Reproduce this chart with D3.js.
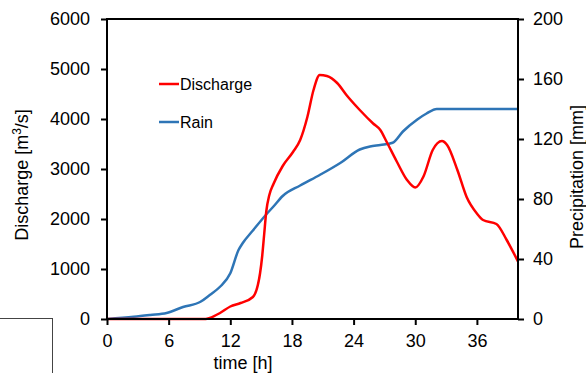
<!DOCTYPE html>
<html>
<head>
<meta charset="utf-8">
<script src="https://cdn.jsdelivr.net/npm/d3@7"></script>
<style>
  body { margin: 0; background: #fff; }
  svg { display: block; font-family: "Liberation Sans", Arial, sans-serif; }
  .axis text { font-size: 18px; fill: #000; }
  .axis line, .axis path { stroke: #000; stroke-width: 2; }
</style>
</head>
<body>
<div id="chart"></div>
<script>
// discharge hydrograph [m3/s]
const dischargeTime = [0, 6, 9.6, 10, 11, 12, 13, 14.2, 14.9, 15.1, 15.3, 15.5, 15.8, 16.2, 17.1, 18.1, 18.8, 19.5, 20.1, 20.7, 21.4, 22.4, 23.3, 24.6, 25.9, 26.6, 27.2, 28.2, 29.2, 30.0, 30.8, 31.7, 32.6, 33.1, 34.1, 35.0, 36.0, 36.6, 37.9, 38.9, 40];
const dischargeValue = [0, 0, 0, 20, 120, 250, 320, 440, 920, 1250, 1700, 2150, 2480, 2700, 3060, 3340, 3580, 4040, 4580, 4880, 4860, 4720, 4480, 4180, 3910, 3780, 3550, 3150, 2780, 2630, 2850, 3380, 3560, 3480, 2980, 2440, 2110, 1980, 1900, 1580, 1150];

// cumulative rain [mm]
const rainTime = [0, 2.6, 4.2, 5.8, 7.4, 9.1, 10.0, 11.0, 12.0, 12.8, 13.2, 14.2, 15.6, 16.2, 17.1, 18.8, 20.7, 22.7, 24.6, 25.6, 26.6, 27.8, 28.8, 30.2, 31.1, 32.1, 34, 40];
const rainValue = [0, 1.5, 2.7, 4, 8, 11.5, 16, 21.5, 30.5, 46, 50.5, 59, 70.5, 75, 82, 89, 96, 104, 113, 115, 116, 117.5, 125, 133, 137, 140, 140, 140];

const xTicks = [0, 6, 12, 18, 24, 30, 36];
const leftTicks = [0, 1000, 2000, 3000, 4000, 5000, 6000];
const rightTicks = [0, 40, 80, 120, 160, 200];

const width = 586, height = 373;
const m = { left: 107, right: 518, top: 19, bottom: 319 };

const svg = d3.select('#chart').append('svg')
  .attr('width', width)
  .attr('height', height);

const x = d3.scaleLinear().domain([0, 40]).range([m.left, m.right]);
const yL = d3.scaleLinear().domain([0, 6000]).range([m.bottom, m.top]);
const yR = d3.scaleLinear().domain([0, 200]).range([m.bottom, m.top]);

// stray box in the lower-left corner of the original
svg.append('rect')
  .attr('x', -2).attr('y', 318.5)
  .attr('width', 54.5).attr('height', 60)
  .attr('fill', 'none')
  .attr('stroke', '#444')
  .attr('stroke-width', 1);

// lines
const dLine = d3.line()
  .x((d, i) => x(dischargeTime[i]))
  .y(d => yL(d))
  .curve(d3.curveMonotoneX);

const rLine = d3.line()
  .x((d, i) => x(rainTime[i]))
  .y(d => yR(d))
  .curve(d3.curveMonotoneX);

svg.append('path')
  .datum(rainValue)
  .attr('d', rLine)
  .attr('fill', 'none')
  .attr('stroke', '#2E75B6')
  .attr('stroke-width', 2.5);

svg.append('path')
  .datum(dischargeValue)
  .attr('d', dLine)
  .attr('fill', 'none')
  .attr('stroke', '#FF0000')
  .attr('stroke-width', 2.5);

// frame
svg.append('rect')
  .attr('x', m.left).attr('y', m.top)
  .attr('width', m.right - m.left).attr('height', m.bottom - m.top)
  .attr('fill', 'none')
  .attr('stroke', '#000')
  .attr('stroke-width', 2);

// axes
svg.append('g')
  .attr('class', 'axis')
  .attr('transform', `translate(0,${m.bottom})`)
  .call(d3.axisBottom(x).tickValues(xTicks).tickSize(6).tickSizeOuter(0).tickPadding(9));

svg.append('g')
  .attr('class', 'axis')
  .attr('transform', `translate(${m.left},0)`)
  .call(d3.axisLeft(yL).tickValues(leftTicks).tickFormat(d3.format('d')).tickSize(6).tickSizeOuter(0).tickPadding(11));

svg.append('g')
  .attr('class', 'axis')
  .attr('transform', `translate(${m.right},0)`)
  .call(d3.axisRight(yR).tickValues(rightTicks).tickSize(6).tickSizeOuter(0).tickPadding(9));

svg.selectAll('.axis .domain').remove();

// titles
svg.append('text')
  .attr('x', 243).attr('y', 369)
  .attr('text-anchor', 'middle')
  .style('font-size', '18px')
  .text('time [h]');

const yt = svg.append('text')
  .attr('transform', 'translate(28,175) rotate(-90)')
  .attr('text-anchor', 'middle')
  .style('font-size', '18px');
yt.append('tspan').text('Discharge [m');
yt.append('tspan').attr('dy', -7).style('font-size', '12px').text('3');
yt.append('tspan').attr('dy', 7).text('/s]');

svg.append('text')
  .attr('transform', 'translate(583,177) rotate(-90)')
  .attr('text-anchor', 'middle')
  .style('font-size', '18px')
  .text('Precipitation [mm]');

// legend
const legend = [
  { name: 'Discharge', color: '#FF0000', y: 84 },
  { name: 'Rain', color: '#2E75B6', y: 122 }
];
const lg = svg.append('g').selectAll('g').data(legend).enter().append('g');
lg.append('line')
  .attr('x1', 159).attr('x2', 179)
  .attr('y1', d => d.y).attr('y2', d => d.y)
  .attr('stroke', d => d.color)
  .attr('stroke-width', 2.5);
lg.append('text')
  .attr('x', 180).attr('y', d => d.y + 6)
  .style('font-size', '16px')
  .text(d => d.name);
</script>
</body>
</html>
